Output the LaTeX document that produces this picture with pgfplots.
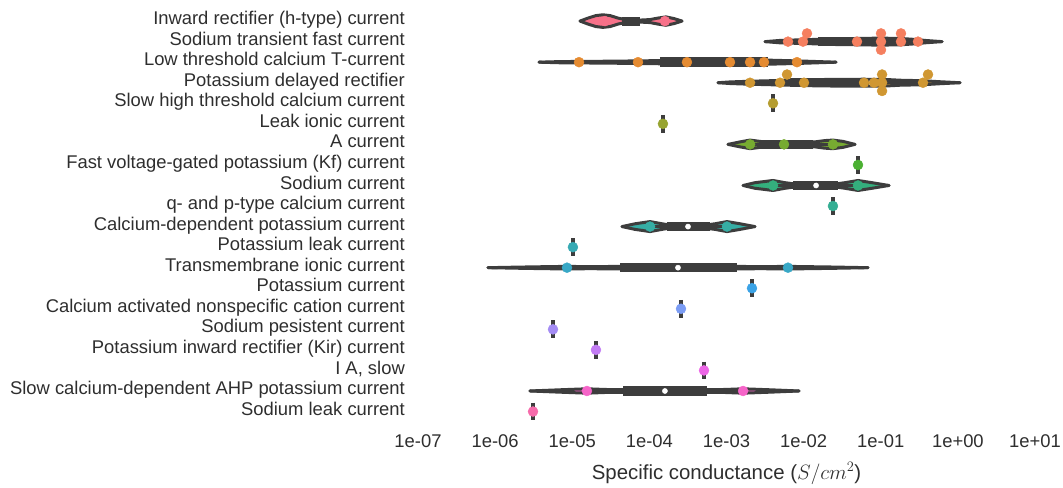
\documentclass[border=0pt]{standalone}
\usepackage{pgfplots}
\usepackage{pgfplotstable}
\pgfplotsset{compat=1.18}
\usepgfplotslibrary{fillbetween}
\usepackage{fontspec}
\setmainfont{Liberation Sans}

\definecolor{vgray}{HTML}{3D3D3D}
\definecolor{tcol}{HTML}{2E2E2E}
\definecolor{c0}{HTML}{F77189}
\definecolor{c1}{HTML}{F57F5F}
\definecolor{c2}{HTML}{E58B31}
\definecolor{c3}{HTML}{D09732}
\definecolor{c4}{HTML}{B59D31}
\definecolor{c5}{HTML}{97A431}
\definecolor{c6}{HTML}{77AB31}
\definecolor{c7}{HTML}{4BB032}
\definecolor{c8}{HTML}{34AF7D}
\definecolor{c9}{HTML}{35AE93}
\definecolor{c10}{HTML}{36ADA4}
\definecolor{c11}{HTML}{37AAB4}
\definecolor{c12}{HTML}{38A8C6}
\definecolor{c13}{HTML}{3BA3E6}
\definecolor{c14}{HTML}{7B9CF4}
\definecolor{c15}{HTML}{A48CF4}
\definecolor{c16}{HTML}{C27CF4}
\definecolor{c17}{HTML}{EC66E6}
\definecolor{c18}{HTML}{F564C8}
\definecolor{c19}{HTML}{F66BAB}

\newcommand{\lab}{\fontsize{18.4}{22}\selectfont}
\newcommand{\xlab}{\fontsize{20.4}{24}\selectfont}

% violin outlines: x value, half width in px
\pgfplotstableread{
x w
1.26e-5 0
1.60e-5 3
2.03e-5 5.5
2.50e-5 6.3
3.09e-5 5.5
3.92e-5 3
4.83e-5 1.5
7.56e-5 1
1.02e-4 1.5
1.29e-4 3
1.64e-4 4.2
2.09e-4 2.5
2.65e-4 0
}\vzero
\pgfplotstableread{
x w
3.16e-3 0
4.94e-3 1.2
8.97e-3 1.8
1.40e-2 2.2
2.20e-2 2.8
5.38e-2 3.2
9.78e-2 3.5
1.78e-1 3.2
2.78e-1 2.2
3.75e-1 1.2
6.23e-1 0
}\vone
\pgfplotstableread{
x w
3.71e-6 0
6.94e-6 0.6
2.29e-5 0.9
7.56e-5 1.3
4.53e-4 2.2
1.50e-3 2.4
3.66e-3 2.0
8.97e-3 1.2
2.63e-2 0
}\vtwo
\pgfplotstableread{
x w
7.76e-4 0
1.11e-3 0.8
2.02e-3 1.5
6.66e-3 2.5
1.63e-2 3.2
6.07e-2 3.5
1.205e-1 3.2
1.78e-1 2.5
3.53e-1 2
5.86e-1 1
1.066 0
}\vthree
\pgfplotstableread{
x w
1.046e-3 0
1.50e-3 2.5
2.02e-3 4.3
2.72e-3 3
3.66e-3 1.8
8.97e-3 1.8
1.40e-2 2.5
1.89e-2 3.8
2.40e-2 4.3
3.24e-2 3
4.64e-2 0
}\vsix
\pgfplotstableread{
x w
1.64e-3 0
2.34e-3 2.8
4.01e-3 5
5.74e-3 2.8
7.73e-3 1.5
2.55e-2 1.5
3.44e-2 2.8
5.07e-2 5
7.70e-2 2.8
1.28e-1 0
}\veight
\pgfplotstableread{
x w
4.42e-5 0
6.51e-5 2.8
1.02e-4 5
1.46e-4 2.8
1.85e-4 1.5
5.26e-4 1.5
7.09e-4 2.8
1.015e-3 5
1.50e-3 2.8
2.34e-3 0
}\vten
\pgfplotstableread{
x w
8.08e-7 0
2.10e-6 0.6
4.43e-6 1
8.55e-6 1.3
1.70e-5 1
4.16e-5 1.3
2.35e-4 1.5
1.37e-3 1.3
2.72e-3 1
6.27e-3 1.3
2.20e-2 0.7
6.83e-2 0
}\vtwelve
\pgfplotstableread{
x w
2.83e-6 0
6.94e-6 1.2
1.55e-5 2.2
2.66e-5 1.5
4.55e-5 1.3
5.59e-4 1.3
9.56e-4 1.5
1.64e-3 2.2
3.66e-3 1.2
8.71e-3 0
}\veighteen
% vertical extent of a one-observation violin, in rows
\pgfplotstableread{
i d
0 -0.43
1 0.43
}\vbar

\pgfplotsset{
  vline/.style={color=vgray, line width=3pt, line cap=round, line join=round, mark=none},
  pts/.style={only marks, mark=*, mark size=5pt, color=#1},
}

% row, fill colour, outline table
\newcommand{\violin}[3]{%
  \addplot[draw=none, name path=u#1] table[x=x, y expr={#1-\thisrow{w}/20.55}] {#3};
  \addplot[draw=none, name path=l#1] table[x=x, y expr={#1+\thisrow{w}/20.55}] {#3};
  \addplot[fill=#2, draw=none] fill between[of=u#1 and l#1];
  \addplot[vline] table[x=x, y expr={#1-\thisrow{w}/20.55}] {#3};
  \addplot[vline] table[x=x, y expr={#1+\thisrow{w}/20.55}] {#3};
}
% row, whisker low, q1, q3, whisker high, median
\newcommand{\boxin}[6]{%
  \addplot[vgray, line width=2.5pt] coordinates {(#2,#1) (#5,#1)};
  \addplot[vgray, line width=9.5pt] coordinates {(#3,#1) (#4,#1)};
  \addplot[only marks, mark=*, mark size=2.6pt, white] coordinates {(#6,#1)};
}
% row, value, colour
\newcommand{\single}[3]{%
  \addplot[vgray, line width=3.5pt] table[x expr=#2, y expr={#1+\thisrow{d}}] {\vbar};
  \addplot[pts=#3] coordinates {(#2,#1)};
}

\begin{document}
\begin{tikzpicture}
\begin{axis}[
  at={(418pt,-421.8pt)}, anchor=south west,
  scale only axis, width=617pt, height=411pt,
  xmode=log, xmin=1e-7, xmax=1e1,
  ymin=-0.5, ymax=19.5, y dir=reverse,
  axis line style={draw=none},
  tick style={draw=none},
  major tick length=0pt, minor tick length=0pt,
  clip=false,
  xtick={1e-7,1e-6,1e-5,1e-4,1e-3,1e-2,1e-1,1,10},
  xticklabels={1e-07,1e-06,1e-05,1e-04,1e-03,1e-02,1e-01,1e+00,1e+01},
  ytick={0,...,19},
  yticklabels={
    Inward rectifier (h-type) current,
    Sodium transient fast current,
    Low threshold calcium T-current,
    Potassium delayed rectifier,
    Slow high threshold calcium current,
    Leak ionic current,
    A current,
    Fast voltage-gated potassium (Kf) current,
    Sodium current,
    q- and p-type calcium current,
    Calcium-dependent potassium current,
    Potassium leak current,
    Transmembrane ionic current,
    Potassium current,
    Calcium activated nonspecific cation current,
    Sodium pesistent current,
    Potassium inward rectifier (Kir) current,
    {I A, slow},
    Slow calcium-dependent AHP potassium current,
    Sodium leak current},
  tick label style={font=\lab, text=tcol},
  yticklabel style={anchor=east, inner sep=0pt, xshift=-13pt, text height=0.72em, text depth=0pt},
  xticklabel style={anchor=north, inner sep=0pt, text height=0.72em, text depth=0pt, yshift=-18.5pt},
  xlabel={Specific conductance ($S/cm^2$)},
  xlabel style={font=\xlab, text=tcol, at={(axis description cs:0.5,0)}, anchor=base, yshift=-57.5pt},
]

% row 0: Inward rectifier (h-type)
\violin{0}{c0}{\vzero}
\addplot[vgray, line width=9pt] coordinates {(4.42e-5,0) (7.56e-5,0)};
\addplot[pts=c0] coordinates {(2.66e-5,0) (1.59e-4,0)};

% row 1: Sodium transient fast
\violin{1}{c1}{\vone}
\boxin{1}{6.27e-3}{1.54e-2}{2.06e-1}{3.04e-1}{1.008e-1}
\addplot[pts=c1] coordinates {(6.27e-3,1) (9.81e-3,1) (1.106e-2,0.6) (4.92e-2,1)
  (1.008e-1,0.6) (1.008e-1,1) (1.008e-1,1.4) (1.83e-1,0.6) (1.83e-1,1) (3.04e-1,1)};

% row 2: Low threshold calcium T
\violin{2}{c2}{\vtwo}
\boxin{2}{1.224e-5}{1.37e-4}{3.45e-3}{8.20e-3}{1.11e-3}
\addplot[pts=c2] coordinates {(1.224e-5,2) (7.12e-5,2) (3.07e-4,2) (1.11e-3,2)
  (2.02e-3,2) (3.06e-3,2) (8.20e-3,2)};

% row 3: Potassium delayed rectifier
\violin{3}{c3}{\vthree}
\boxin{3}{2.02e-3}{6.66e-3}{1.205e-1}{4.10e-1}{7.6e-2}
\addplot[pts=c3] coordinates {(2.02e-3,3) (4.94e-3,3) (6.09e-3,2.6) (1.011e-2,3)
  (6.07e-2,3) (8.18e-2,3) (1.04e-1,2.6) (1.04e-1,3) (1.04e-1,3.4) (3.53e-1,3) (4.10e-1,2.6)};

\single{4}{4.01e-3}{c4}
\single{5}{1.50e-4}{c5}

% row 6: A current
\violin{6}{c6}{\vsix}
\boxin{6}{2.02e-3}{2.72e-3}{1.32e-2}{2.40e-2}{5.57e-3}
\addplot[pts=c6] coordinates {(2.02e-3,6) (5.57e-3,6) (2.40e-2,6)};

\single{7}{5.07e-2}{c7}

% row 8: Sodium current
\violin{8}{c8}{\veight}
\boxin{8}{4.01e-3}{7.28e-3}{2.79e-2}{5.07e-2}{1.45e-2}
\addplot[pts=c8] coordinates {(4.01e-3,8) (5.07e-2,8)};

\single{9}{2.40e-2}{c9}

% row 10: Calcium-dependent potassium
\violin{10}{c10}{\vten}
\boxin{10}{1.02e-4}{1.69e-4}{6.11e-4}{1.015e-3}{3.17e-4}
\addplot[pts=c10] coordinates {(1.02e-4,10) (1.015e-3,10)};

\single{11}{1.02e-5}{c11}

% row 12: Transmembrane ionic
\violin{12}{c12}{\vtwelve}
\boxin{12}{8.55e-6}{4.16e-5}{1.37e-3}{6.27e-3}{2.35e-4}
\addplot[pts=c12] coordinates {(8.55e-6,12) (6.27e-3,12)};

\single{13}{2.14e-3}{c13}
\single{14}{2.57e-4}{c14}
\single{15}{5.63e-6}{c15}
\single{16}{2.03e-5}{c16}
\single{17}{5.11e-4}{c17}

% row 18: Slow calcium-dependent AHP potassium
\violin{18}{c18}{\veighteen}
\boxin{18}{1.55e-5}{4.55e-5}{5.59e-4}{1.64e-3}{1.59e-4}
\addplot[pts=c18] coordinates {(1.55e-5,18) (1.64e-3,18)};

\single{19}{3.10e-6}{c19}

\end{axis}
\path (0,0) rectangle (1063pt,-483pt);
\end{tikzpicture}
\end{document}
